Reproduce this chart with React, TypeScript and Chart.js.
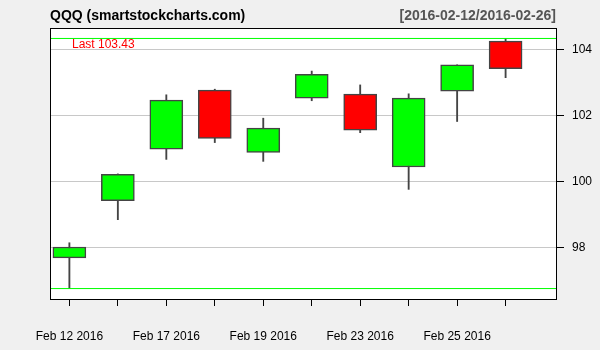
import React, { useEffect, useRef } from "react";
import { Chart, registerables } from "chart.js";

Chart.register(...registerables);

const dates = [
  "Feb 12 2016", "Feb 16 2016", "Feb 17 2016", "Feb 18 2016", "Feb 19 2016",
  "Feb 22 2016", "Feb 23 2016", "Feb 24 2016", "Feb 25 2016", "Feb 26 2016",
];
const opens = [97.69, 99.43, 100.99, 102.78, 100.89, 102.54, 102.66, 100.45, 102.75, 104.27];
const highs = [98.15, 100.24, 102.64, 102.81, 101.93, 103.36, 102.94, 102.67, 103.55, 104.35];
const lows = [96.76, 98.85, 100.68, 101.19, 100.62, 102.46, 101.49, 99.77, 101.83, 103.16];
const closes = [98.02, 100.23, 102.48, 101.32, 101.63, 103.26, 101.57, 102.54, 103.55, 103.43];
const yTicks = [98, 100, 102, 104];
const titleLeft = "QQQ (smartstockcharts.com)";
const titleRight = "[2016-02-12/2016-02-26]";

const X_MIN = -0.4;
const X_MAX = 10.04;
const Y_MIN = 96.443;
const Y_MAX = 104.637;
const FONT = "'Liberation Sans', Arial, sans-serif";

export default function App() {
  const ref = useRef<HTMLCanvasElement | null>(null);

  useEffect(() => {
    const canvas = ref.current;
    if (!canvas) return;
    const idx = dates.map((_, i) => i);
    const maxHigh = Math.max(...highs);
    const minLow = Math.min(...lows);
    const colors = idx.map((i) => (closes[i] >= opens[i] ? "#00ff00" : "#ff0000"));

    const deco = {
      id: "deco",
      beforeDraw(chart: any) {
        const { ctx, chartArea: a } = chart;
        ctx.save();
        ctx.fillStyle = "#f0f0f0";
        ctx.fillRect(0, 0, chart.width, chart.height);
        ctx.fillStyle = "#ffffff";
        ctx.fillRect(a.left, a.top, a.right - a.left, a.bottom - a.top);
        ctx.restore();
      },
      afterDraw(chart: any) {
        const { ctx, chartArea: a } = chart;
        ctx.save();
        ctx.strokeStyle = "#000";
        ctx.lineWidth = 1;
        ctx.strokeRect(Math.round(a.left) + 0.5, Math.round(a.top) - 0.5, Math.round(a.right - a.left), Math.round(a.bottom - a.top) + 1);
        ctx.textBaseline = "alphabetic";
        ctx.font = `bold 14px ${FONT}`;
        ctx.fillStyle = "#000";
        ctx.textAlign = "left";
        ctx.fillText(titleLeft, a.left, 20);
        ctx.fillStyle = "#555";
        ctx.textAlign = "right";
        ctx.fillText(titleRight, a.right, 20);
        ctx.font = `12px ${FONT}`;
        ctx.fillStyle = "#ff0000";
        ctx.textAlign = "left";
        ctx.fillText("Last " + closes[closes.length - 1].toFixed(2), a.left + 22, 48);
        ctx.restore();
      },
    };

    const chart = new Chart(canvas, {
      type: "bar",
      data: {
        datasets: [
          {
            type: "line",
            data: [{ x: X_MIN, y: maxHigh }, { x: X_MAX, y: maxHigh }],
            borderColor: "#00ff00",
            borderWidth: 1,
            pointRadius: 0,
            order: 1,
          } as any,
          {
            type: "line",
            data: [{ x: X_MIN, y: minLow }, { x: X_MAX, y: minLow }],
            borderColor: "#00ff00",
            borderWidth: 1,
            pointRadius: 0,
            order: 1,
          } as any,
          {
            type: "bar",
            data: idx.map((i) => ({ x: i, y: [lows[i], highs[i]] })),
            backgroundColor: "#444444",
            borderWidth: 0,
            barThickness: 1.2,
            grouped: false,
            order: 3,
          } as any,
          {
            type: "bar",
            data: idx.map((i) => ({ x: i, y: [opens[i], closes[i]] })),
            backgroundColor: colors,
            borderColor: "#444444",
            borderWidth: 1.5,
            borderSkipped: false,
            barThickness: 33,
            grouped: false,
            order: 2,
          } as any,
        ],
      },
      options: {
        animation: false,
        responsive: false,
        devicePixelRatio: 1,
        layout: { padding: { left: 50, top: 29, right: 0, bottom: 0 } },
        plugins: { legend: { display: false }, tooltip: { enabled: false }, title: { display: false } },
        scales: {
          x: {
            type: "linear",
            min: X_MIN,
            max: X_MAX,
            offset: false,
            afterBuildTicks: (s: any) => {
              s.ticks = idx.map((v) => ({ value: v }));
            },
            afterFit: (s: any) => {
              s.height = 51;
            },
            grid: {
              offset: false,
              drawOnChartArea: false,
              drawTicks: true,
              tickLength: 7,
              color: "#000",
              tickColor: "#000",
            },
            border: { display: false },
            ticks: {
              autoSkip: false,
              maxRotation: 0,
              padding: 23,
              color: "#000",
              font: { family: FONT, size: 12 },
              callback: (v: any) => {
                const n = Number(v);
                return Number.isInteger(n) && n % 2 === 0 ? dates[n] : "";
              },
            },
          },
          y: {
            type: "linear",
            position: "right",
            min: Y_MIN,
            max: Y_MAX,
            afterBuildTicks: (s: any) => {
              s.ticks = yTicks.map((v) => ({ value: v }));
            },
            afterFit: (s: any) => {
              s.width = 44;
            },
            grid: {
              color: "#c8c8c8",
              tickColor: "#000",
              tickLength: 8,
              lineWidth: 1,
            },
            border: { display: false },
            ticks: {
              padding: 8,
              color: "#000",
              font: { family: FONT, size: 12 },
            },
          },
        },
      } as any,
      plugins: [deco],
    });

    return () => chart.destroy();
  }, []);

  return (
    <div style={{ position: "fixed", left: 0, top: 0, width: 600, height: 350, background: "#f0f0f0" }}>
      <canvas ref={ref} width={600} height={350} style={{ display: "block" }} />
    </div>
  );
}
